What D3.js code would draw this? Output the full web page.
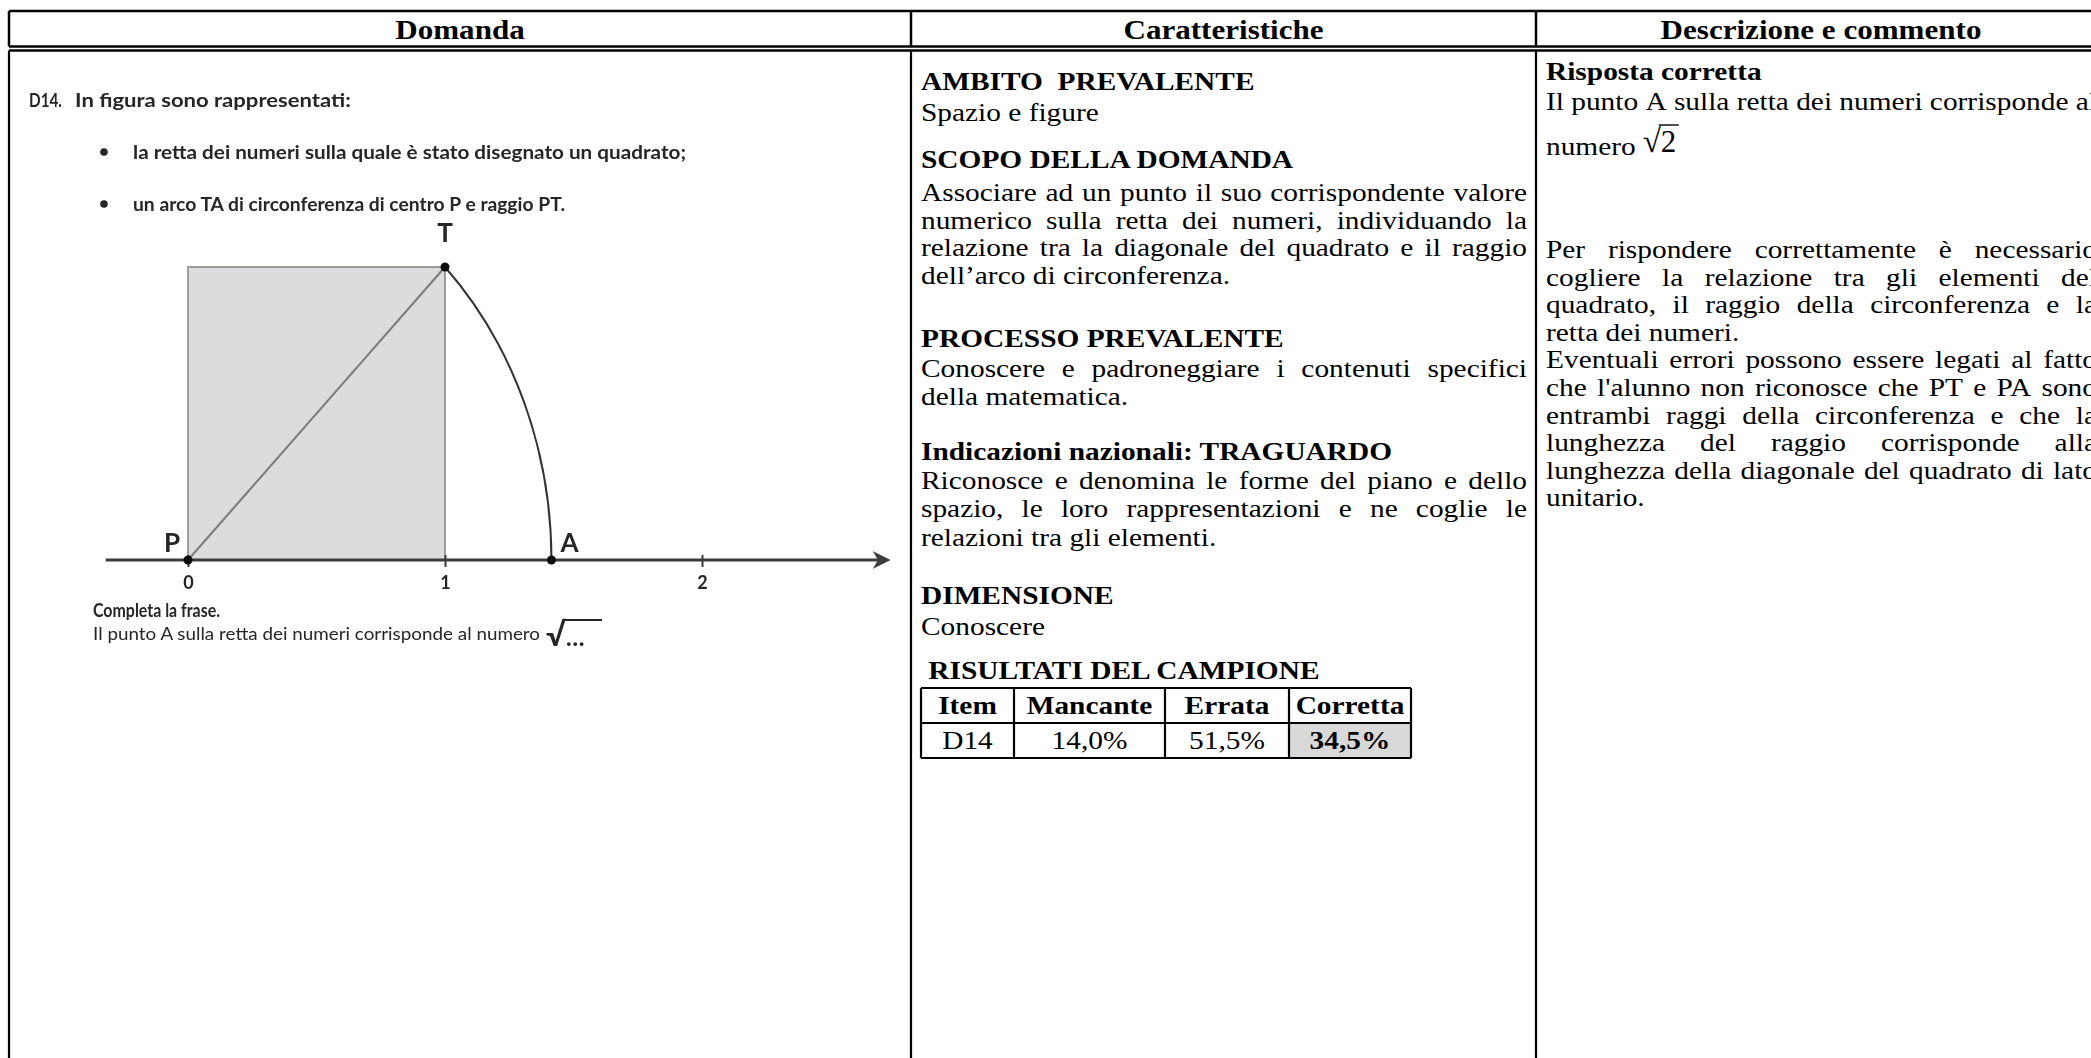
<!DOCTYPE html>
<html>
<head>
<meta charset="utf-8">
<script src="https://cdn.jsdelivr.net/npm/d3@7"></script>
<style>
body { margin: 0; background: #fff; }
svg { display: block; }
.serif { font-family: "Liberation Serif", "Times New Roman", serif; fill: #000; white-space: pre; }
.sans { font-family: Lato, "Open Sans", sans-serif; fill: #262626; }
</style>
</head>
<body>
<svg id="chart"></svg>
<script>
// ---- data ----
var headers = ["Domanda", "Caratteristiche", "Descrizione e commento"]

var questionIntro = ["D14.", "In figura sono rappresentati:"]
var questionBullets = [
    "la retta dei numeri sulla quale è stato disegnato un quadrato;",
    "un arco TA di circonferenza di centro P e raggio PT."
]
var completeTitle = "Completa la frase."
var completeText = "Il punto A sulla retta dei numeri corrisponde al numero"

var tickValues = [0, 1, 2]
var lineExtent = [-0.32, 2.72]
var squareCorners = [[0, 0], [1, 1]]
var pointNames = ["P", "T", "A"]
var pointX = [0, 1, Math.SQRT2]
var pointY = [0, 1, 0]

// h = heading, j = justified line, l = last line of a paragraph
var caratteristiche = [
    ["h", "AMBITO  PREVALENTE"],
    ["l", "Spazio e figure"],
    ["h", "SCOPO DELLA DOMANDA"],
    ["j", "Associare ad un punto il suo corrispondente valore"],
    ["j", "numerico sulla retta dei numeri, individuando la"],
    ["j", "relazione tra la diagonale del quadrato e il raggio"],
    ["l", "dell’arco di circonferenza."],
    ["h", "PROCESSO PREVALENTE"],
    ["j", "Conoscere e padroneggiare i contenuti specifici"],
    ["l", "della matematica."],
    ["h", "Indicazioni nazionali: TRAGUARDO"],
    ["j", "Riconosce e denomina le forme del piano e dello"],
    ["j", "spazio, le loro rappresentazioni e ne coglie le"],
    ["l", "relazioni tra gli elementi."],
    ["h", "DIMENSIONE"],
    ["l", "Conoscere"],
    ["h", " RISULTATI DEL CAMPIONE"]
]

var tableColumns = ["Item", "Mancante", "Errata", "Corretta"]
var tableValues = ["D14", "14,0%", "51,5%", "34,5%"]

var rispostaTitle = "Risposta corretta"
var rispostaLine = "Il punto A sulla retta dei numeri corrisponde al"
var rispostaNumero = "numero"
var rispostaValue = "2"
var commento = [
    ["j", "Per rispondere correttamente è necessario"],
    ["j", "cogliere la relazione tra gli elementi del"],
    ["j", "quadrato, il raggio della circonferenza e la"],
    ["l", "retta dei numeri."],
    ["j", "Eventuali errori possono essere legati al fatto"],
    ["j", "che l'alunno non riconosce che PT e PA sono"],
    ["j", "entrambi raggi della circonferenza e che la"],
    ["j", "lunghezza del raggio corrisponde alla"],
    ["j", "lunghezza della diagonale del quadrato di lato"],
    ["l", "unitario."]
]

// ---- layout ----
var W = 2091, H = 1058
var SX = 1.13          // the scanned page is a little wider than tall
var colEdges = [9, 911, 1536, 2106]
var headTop = 11, headBottom = 46.5, bodyTop = 50.5

var svg = d3.select("#chart").attr("width", W).attr("height", H)
svg.append("rect").attr("width", W).attr("height", H).attr("fill", "#fff")

var defs = svg.append("defs")
defs.append("filter").attr("id", "soft")
    .append("feGaussianBlur").attr("stdDeviation", 0.55)
defs.append("marker")
    .attr("id", "arrow")
    .attr("viewBox", "0 0 10 10")
    .attr("refX", 8).attr("refY", 5)
    .attr("markerWidth", 6).attr("markerHeight", 6)
    .attr("markerUnits", "strokeWidth")
    .attr("orient", "auto")
    .append("path")
    .attr("d", "M0,0 L10,5 L0,10 L3,5 Z")
    .attr("fill", "#3a3a3a")

function serifLine(g, str, x, y, opts) {
    var t = g.append("text")
        .attr("class", "serif")
        .attr("transform", "translate(" + x + "," + y + ") scale(" + SX + ",1)")
        .style("font-size", (opts.size || 26) + "px")
        .style("font-weight", opts.bold ? "bold" : "normal")
        .attr("text-anchor", opts.anchor || "start")
    if (opts.justify) {
        var words = str.split(" ")
        var spans = words.map(function(w) { return t.append("tspan").text(w) })
        var widths = spans.map(function(s) { return s.node().getComputedTextLength() })
        var gap = (opts.width / SX - d3.sum(widths)) / (words.length - 1)
        var cx = 0
        spans.forEach(function(s, i) { s.attr("x", cx); cx += widths[i] + gap })
    } else {
        t.text(str)
    }
    return t
}

// ---- grid ----
var grid = svg.append("g").attr("stroke", "#000").attr("fill", "none")
grid.append("line").attr("x1", colEdges[0]).attr("x2", W).attr("y1", headTop).attr("y2", headTop).attr("stroke-width", 2.5)
grid.append("line").attr("x1", colEdges[0]).attr("x2", W).attr("y1", headBottom).attr("y2", headBottom).attr("stroke-width", 2.5)
grid.append("line").attr("x1", colEdges[0]).attr("x2", W).attr("y1", bodyTop).attr("y2", bodyTop).attr("stroke-width", 2.5)
colEdges.forEach(function(cx) {
    grid.append("line").attr("x1", cx).attr("x2", cx).attr("y1", headTop).attr("y2", headBottom).attr("stroke-width", 2.5)
    grid.append("line").attr("x1", cx).attr("x2", cx).attr("y1", bodyTop).attr("y2", H).attr("stroke-width", 2.2)
})

headers.forEach(function(h, i) {
    serifLine(svg, h, (colEdges[i] + colEdges[i + 1]) / 2, 38.5, {bold: true, size: 27.5, anchor: "middle"})
})

// ---- column 1: the question ----
var q = svg.append("g").attr("filter", "url(#soft)")
q.append("text").attr("class", "sans").attr("x", 29).attr("y", 107)
    .style("font-size", "19.5px").style("font-weight", "bold")
    .attr("textLength", 33).attr("lengthAdjust", "spacingAndGlyphs")
    .text(questionIntro[0])
q.append("text").attr("class", "sans").attr("x", 75).attr("y", 107)
    .style("font-size", "19.5px").style("font-weight", "bold")
    .attr("textLength", 276).attr("lengthAdjust", "spacingAndGlyphs")
    .text(questionIntro[1])

var bulletY = d3.scalePoint().domain(d3.range(questionBullets.length)).range([152, 204])
var bulletW = [553, 432]
questionBullets.forEach(function(b, i) {
    q.append("circle").attr("cx", 104).attr("cy", bulletY(i)).attr("r", 3.8).attr("fill", "#262626")
    q.append("text").attr("class", "sans").attr("x", 133).attr("y", bulletY(i) + 6.5)
        .style("font-size", "19.5px").style("font-weight", "bold")
        .attr("textLength", bulletW[i]).attr("lengthAdjust", "spacingAndGlyphs")
        .text(b)
})

// figure
var x = d3.scaleLinear().domain([0, 2]).range([188, 702])
var y = d3.scaleLinear().domain([0, 1]).range([560, 267])
var fig = q.append("g")

fig.append("rect")
    .attr("x", x(squareCorners[0][0]))
    .attr("y", y(squareCorners[1][1]))
    .attr("width", x(squareCorners[1][0]) - x(squareCorners[0][0]))
    .attr("height", y(squareCorners[0][1]) - y(squareCorners[1][1]))
    .attr("fill", "#dcdcde")
    .attr("stroke", "#9c9c9c")
    .attr("stroke-width", 2)

fig.append("line")
    .attr("x1", x(pointX[0])).attr("y1", y(pointY[0]))
    .attr("x2", x(pointX[1])).attr("y2", y(pointY[1]))
    .attr("stroke", "#7a7a7a").attr("stroke-width", 2)

var rx = x(pointX[2]) - x(0), ry = y(0) - y(pointX[2])
fig.append("path")
    .attr("d", "M" + x(pointX[1]) + "," + y(pointY[1]) +
        " A" + rx + "," + ry + " 0 0 1 " + x(pointX[2]) + "," + y(pointY[2]))
    .attr("fill", "none").attr("stroke", "#333").attr("stroke-width", 2)

fig.append("line")
    .attr("x1", x(lineExtent[0])).attr("y1", y(0))
    .attr("x2", x(lineExtent[1])).attr("y2", y(0))
    .attr("stroke", "#3a3a3a").attr("stroke-width", 3)
    .attr("marker-end", "url(#arrow)")

var axis = fig.append("g")
    .attr("transform", "translate(0," + y(0) + ")")
    .call(d3.axisBottom(x).tickValues(tickValues).tickFormat(d3.format("d")).tickSize(7).tickPadding(9))
axis.select(".domain").remove()
axis.selectAll(".tick line").attr("stroke", "#3a3a3a").attr("stroke-width", 2).attr("y1", -5)
axis.selectAll(".tick text")
    .attr("class", "sans")
    .attr("fill", "#262626")
    .style("font-size", "18px").style("font-weight", "bold")

fig.selectAll("circle.pt")
    .data(pointNames)
    .join("circle")
    .attr("class", "pt")
    .attr("cx", function(d, i) { return x(pointX[i]) })
    .attr("cy", function(d, i) { return y(pointY[i]) })
    .attr("r", 4.5)
    .attr("fill", "#111")

var labelOffset = [[-16, -8], [0, -25], [18, -8]]
fig.selectAll("text.lbl")
    .data(pointNames)
    .join("text")
    .attr("class", "sans lbl")
    .attr("x", function(d, i) { return x(pointX[i]) + labelOffset[i][0] })
    .attr("y", function(d, i) { return y(pointY[i]) + labelOffset[i][1] })
    .attr("text-anchor", "middle")
    .style("font-size", "26px").style("font-weight", "bold")
    .text(function(d) { return d })

q.append("text").attr("class", "sans").attr("x", 93).attr("y", 617)
    .style("font-size", "18px").style("font-weight", "bold")
    .attr("textLength", 127).attr("lengthAdjust", "spacingAndGlyphs")
    .text(completeTitle)
q.append("text").attr("class", "sans").attr("x", 93).attr("y", 640)
    .style("font-size", "18px")
    .attr("textLength", 447).attr("lengthAdjust", "spacingAndGlyphs")
    .text(completeText)
q.append("text").attr("class", "sans").attr("x", 546).attr("y", 646)
    .style("font-size", "32px").style("font-weight", "bold").text("√")
q.append("text").attr("class", "sans").attr("x", 566).attr("y", 646)
    .style("font-size", "24px").style("font-weight", "bold").text("…")
q.append("line").attr("x1", 564).attr("x2", 602).attr("y1", 620).attr("y2", 620)
    .attr("stroke", "#262626").attr("stroke-width", 2)

// ---- column 2: caratteristiche ----
var c2 = svg.append("g")
var c2x = 921, c2w = 606
// distance of each line from the one above it
var c2Steps = [90, 31, 47, 33, 28, 27, 28, 63, 30, 28, 55, 29, 28, 29, 58, 31, 44]
var yy = 0
caratteristiche.forEach(function(row, i) {
    yy += c2Steps[i]
    serifLine(c2, row[1], c2x, yy, {bold: row[0] === "h", justify: row[0] === "j", width: c2w})
})

// results table
var tEdges = [921, 1014, 1165, 1289, 1411]
var tRows = [688, 723, 758]
var tbl = c2.append("g")
tbl.append("rect")
    .attr("x", tEdges[3]).attr("y", tRows[1])
    .attr("width", tEdges[4] - tEdges[3]).attr("height", tRows[2] - tRows[1])
    .attr("fill", "#d9d9d9")
tRows.forEach(function(ry) {
    tbl.append("line").attr("x1", tEdges[0]).attr("x2", tEdges[4]).attr("y1", ry).attr("y2", ry)
        .attr("stroke", "#000").attr("stroke-width", 2.2)
})
tEdges.forEach(function(ex) {
    tbl.append("line").attr("x1", ex).attr("x2", ex).attr("y1", tRows[0]).attr("y2", tRows[2])
        .attr("stroke", "#000").attr("stroke-width", 2.2)
})
tableColumns.forEach(function(c, i) {
    var cx = (tEdges[i] + tEdges[i + 1]) / 2
    serifLine(tbl, c, cx, tRows[0] + 26, {bold: true, anchor: "middle"})
    serifLine(tbl, tableValues[i], cx, tRows[1] + 26, {bold: i === 3, anchor: "middle"})
})

// ---- column 3: descrizione e commento ----
var c3 = svg.append("g")
var c3x = 1546, c3w = 551
serifLine(c3, rispostaTitle, c3x, 80, {bold: true})
serifLine(c3, rispostaLine, c3x, 110, {justify: true, width: c3w})
var num = serifLine(c3, rispostaNumero, c3x, 155, {})
var numW = num.node().getComputedTextLength() * SX
var rootX = c3x + numW + 7
c3.append("text").attr("class", "serif").attr("x", rootX).attr("y", 152)
    .style("font-size", "33px").text("√")
c3.append("text").attr("class", "serif").attr("x", rootX + 18).attr("y", 152)
    .style("font-size", "31px").text(rispostaValue)
c3.append("line").attr("x1", rootX + 16).attr("x2", rootX + 36).attr("y1", 125).attr("y2", 125)
    .attr("stroke", "#000").attr("stroke-width", 1.4)

var yy3 = 258, pitch3 = 27.6
commento.forEach(function(row, i) {
    serifLine(c3, row[1], c3x, yy3 + i * pitch3, {justify: row[0] === "j", width: c3w})
})
</script>
</body>
</html>
